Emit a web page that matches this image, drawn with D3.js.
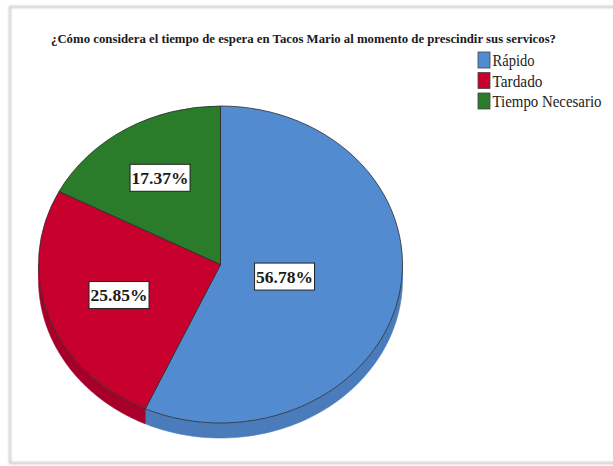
<!DOCTYPE html>
<html>
<head>
<meta charset="utf-8">
<script src="https://cdn.jsdelivr.net/npm/d3@7"></script>
<style>
  html, body { margin: 0; padding: 0; background: #ffffff; }
  svg { display: block; }
</style>
</head>
<body>
<svg id="chart" width="613" height="466"></svg>
<script>
// Survey answers and their shares (%)
const categories = ["Rápido", "Tardado", "Tiempo Necesario"];
const percentages = [56.78, 25.85, 17.37];
const colors = ["#538bd1", "#c8002e", "#2a7c2a"];
const sideColors = ["#4a7bbb", "#a6002a", "#236a23"];
const titleText = "¿Cómo considera el tiempo de espera en Tacos Mario al momento de prescindir sus servicos?";

// Label distance from centre, as a fraction of the radius, per slice
const labelRadius = [0.36, 0.59, 0.64];

const svg = d3.select("#chart");
const W = 613, H = 466;
const serif = "'Liberation Serif', 'Times New Roman', serif";

// Panel with soft edge shadow
const defs = svg.append("defs");
defs.append("filter").attr("id", "soft")
  .attr("x", "-5%").attr("y", "-5%").attr("width", "110%").attr("height", "110%")
  .append("feGaussianBlur").attr("stdDeviation", 0.9);

svg.append("rect").attr("x", 0).attr("y", 0).attr("width", W).attr("height", H).attr("fill", "#ffffff");
svg.append("rect")
  .attr("x", 10).attr("y", 7).attr("width", 640).attr("height", 456)
  .attr("fill", "#ffffff")
  .attr("stroke", "#c4c4c4").attr("stroke-width", 2)
  .attr("filter", "url(#soft)");
svg.append("line")
  .attr("x1", 10.5).attr("x2", 10.5).attr("y1", 8).attr("y2", 463)
  .attr("stroke", "#a9a9a9").attr("stroke-width", 2).attr("filter", "url(#soft)");

// Title
svg.append("text")
  .attr("x", 51).attr("y", 43)
  .attr("font-family", serif)
  .attr("font-weight", "bold")
  .attr("font-size", 13.5)
  .attr("fill", "#1a1a1a")
  .attr("textLength", 505)
  .attr("lengthAdjust", "spacingAndGlyphs")
  .text(titleText);

// Legend
const legend = svg.append("g").attr("transform", "translate(478,52)");
const legendWidths = [42, 50, 109];
categories.forEach((c, i) => {
  const g = legend.append("g").attr("transform", `translate(0,${i * 20.5})`);
  g.append("rect").attr("x", 0).attr("y", 0).attr("width", 12).attr("height", 16)
    .attr("fill", colors[i]).attr("stroke", "#444").attr("stroke-width", 0.8);
  g.append("text").attr("x", 14.5).attr("y", 14)
    .attr("font-family", serif)
    .attr("font-size", 16.5)
    .attr("fill", "#222")
    .attr("textLength", legendWidths[i])
    .attr("lengthAdjust", "spacingAndGlyphs")
    .text(c);
});

// Tilted pie geometry
const cx = 220.5, cy = 264.5, rx = 182, ry = 158.5, depth = 15;
const data = categories.map((c, i) => ({ name: c, value: percentages[i], i }));
const pie = d3.pie().sort(null).value(d => d.value);
const arcs = pie(data);

const pt = (a, dy = 0) => [cx + rx * Math.sin(a), cy - ry * Math.cos(a) + dy];

// Side walls for the front half of the disc (angles between PI/2 and 3PI/2)
const sideG = svg.append("g");
arcs.forEach(d => {
  const a0 = Math.max(d.startAngle, Math.PI / 2);
  const a1 = Math.min(d.endAngle, 3 * Math.PI / 2);
  if (a1 <= a0) return;
  const n = 80;
  const top = d3.range(n + 1).map(k => pt(a0 + (a1 - a0) * k / n));
  const bottom = d3.range(n + 1).map(k => pt(a1 - (a1 - a0) * k / n, depth));
  const path = d3.line()(top.concat(bottom)) + "Z";
  sideG.append("path").attr("d", path)
    .attr("fill", sideColors[d.data.i])
    .attr("stroke", sideColors[d.data.i]).attr("stroke-width", 0.6);
});

// Top face of the pie: circular arcs squashed vertically
const arc = d3.arc().innerRadius(0).outerRadius(rx);
svg.append("g")
  .attr("transform", `translate(${cx},${cy}) scale(1,${ry / rx})`)
  .selectAll("path")
  .data(arcs)
  .join("path")
  .attr("d", arc)
  .attr("fill", d => colors[d.data.i])
  .attr("stroke", "#2b2b2b")
  .attr("stroke-width", 0.8)
  .attr("vector-effect", "non-scaling-stroke");

// Percentage labels in white boxes
const labels = svg.append("g");
arcs.forEach(d => {
  const mid = (d.startAngle + d.endAngle) / 2;
  const f = labelRadius[d.data.i];
  const x = cx + rx * f * Math.sin(mid);
  const y = cy - ry * f * Math.cos(mid);
  const g = labels.append("g").attr("transform", `translate(${x},${y})`);
  g.append("rect")
    .attr("x", -30).attr("y", -13.5)
    .attr("width", 60).attr("height", 27)
    .attr("fill", "#ffffff").attr("stroke", "#222").attr("stroke-width", 1);
  g.append("text")
    .attr("text-anchor", "middle")
    .attr("y", 6)
    .attr("font-family", serif)
    .attr("font-weight", "bold")
    .attr("font-size", 17.5)
    .attr("fill", "#1a1a1a")
    .text(d.data.value.toFixed(2) + "%");
});
</script>
</body>
</html>
